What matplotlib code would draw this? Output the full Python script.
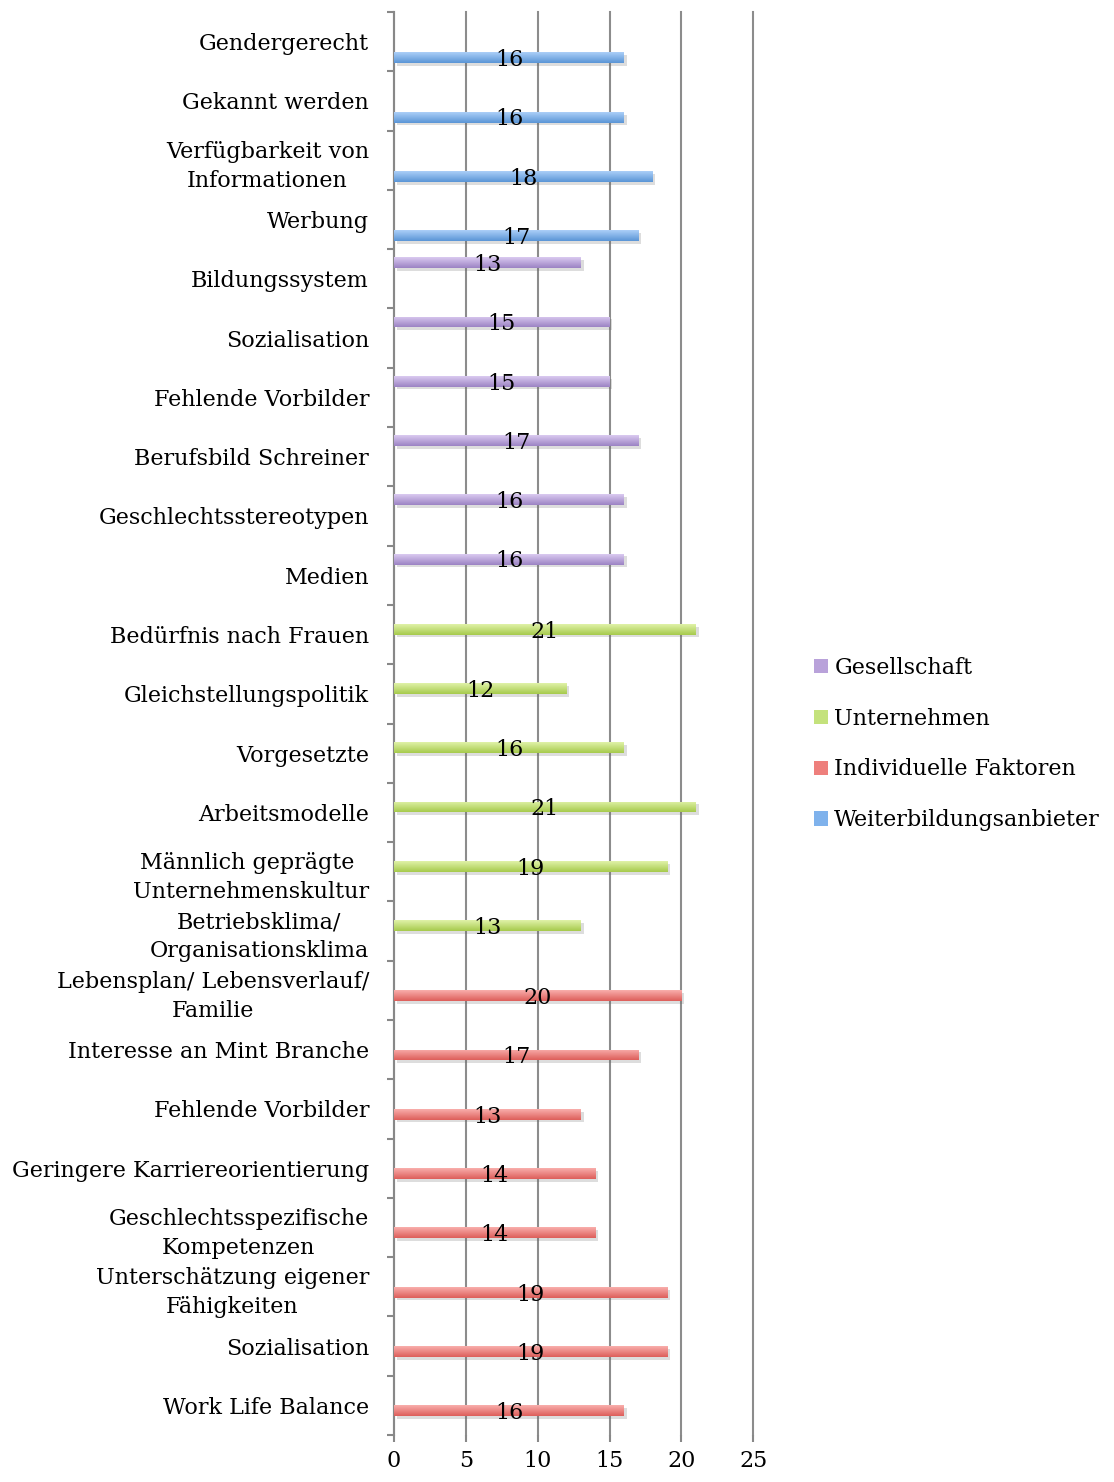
import numpy as np
import matplotlib
matplotlib.use('Agg')
import matplotlib.pyplot as plt
import matplotlib.patheffects as pe
from matplotlib.patches import Patch
from matplotlib.colors import LinearSegmentedColormap

plt.rcParams['font.family'] = ['DejaVu Serif']

# categories top to bottom, value and group for each
categories = ['Gendergerecht', 'Gekannt werden', 'Verfügbarkeit von\nInformationen', 'Werbung',
              'Bildungssystem', 'Sozialisation', 'Fehlende Vorbilder', 'Berufsbild Schreiner',
              'Geschlechtsstereotypen', 'Medien',
              'Bedürfnis nach Frauen', 'Gleichstellungspolitik', 'Vorgesetzte', 'Arbeitsmodelle',
              'Männlich geprägte \nUnternehmenskultur', 'Betriebsklima/\nOrganisationsklima',
              'Lebensplan/ Lebensverlauf/\nFamilie', 'Interesse an Mint Branche', 'Fehlende Vorbilder',
              'Geringere Karriereorientierung', 'Geschlechtsspezifische\nKompetenzen',
              'Unterschätzung eigener\nFähigkeiten', 'Sozialisation', 'Work Life Balance']
values = [16, 16, 18, 17,
          13, 15, 15, 17, 16, 16,
          21, 12, 16, 21, 19, 13,
          20, 17, 13, 14, 14, 19, 19, 16]
groups = ['Weiterbildungsanbieter'] * 4 + ['Gesellschaft'] * 6 + ['Unternehmen'] * 6 + ['Individuelle Faktoren'] * 8

# Excel series order (series 1 drawn lowest in each category)
series = ['Weiterbildungsanbieter', 'Individuelle Faktoren', 'Unternehmen', 'Gesellschaft']
colors = {
    'Weiterbildungsanbieter': ('#abcff8', '#5a95d6', '#7fb2ec'),
    'Individuelle Faktoren': ('#f9aeac', '#dd5e5a', '#ee7f7c'),
    'Unternehmen': ('#e0f2a8', '#a6ca4c', '#c4e27c'),
    'Gesellschaft': ('#dacaf0', '#9c83c4', '#b9a2da'),
}

n = len(categories)
ypos = np.arange(n)[::-1]  # first category at top
slot = 1 / 5.5  # 4 bars + 150% gap width
offsets = {s: (i - 1.5) * slot for i, s in enumerate(series)}

fig = plt.figure(figsize=(11.14, 14.82), dpi=100)
ax = fig.add_axes([0.3537, 0.0317, 0.6762 - 0.3537, 0.9919 - 0.0317])

fs = 16
for y, v, g, lab in zip(ypos, values, groups, categories):
    top, bot, mid = colors[g]
    yy = y + offsets[g]
    b = ax.barh(yy, v, height=slot, color=mid, linewidth=0, zorder=3)[0]
    b.set_path_effects([pe.SimplePatchShadow(offset=(2, -2), shadow_rgbFace='#666666', alpha=0.22),
                        pe.Normal()])
    cmap = LinearSegmentedColormap.from_list('g', [bot, top])
    grad = np.linspace(0, 1, 50).reshape(-1, 1)
    im = ax.imshow(grad, extent=(b.get_x(), b.get_x() + b.get_width(), b.get_y(), b.get_y() + b.get_height()),
                   origin='lower', cmap=cmap, aspect='auto', zorder=4)
    im.set_clip_path(b)
    ax.text(v / 2, yy - 0.04, str(v), ha='center', va='center', fontsize=fs, zorder=5)

ax.set_xlim(0, 25)
ax.set_ylim(-0.5, n - 0.5)
ax.set_xticks(range(0, 26, 5))
ax.set_yticks(ypos)
ax.set_yticklabels(categories, fontsize=fs, linespacing=1.4)
for t in ax.get_yticklabels():
    t.set_multialignment('center')
ax.set_yticks(np.arange(-0.5, n, 1), minor=True)
ax.tick_params(axis='y', which='major', length=0, pad=18)
ax.tick_params(axis='y', which='minor', length=5, color='#888888', width=1.5)
ax.tick_params(axis='x', length=5, color='#888888', width=1.5, labelsize=fs, pad=6)

for s in ['top', 'right', 'bottom']:
    ax.spines[s].set_visible(False)
ax.spines['left'].set_color('#888888')
ax.spines['left'].set_linewidth(1.5)
ax.grid(axis='x', color='#8c8c8c', linewidth=1.5, zorder=0)
for gl in ax.get_xgridlines():
    gl.set_clip_on(False)
ax.set_axisbelow(True)

handles = [Patch(facecolor=colors[s][2], edgecolor='none', label=s) for s in series[::-1]]
fig.legend(handles=handles, loc='center left', bbox_to_anchor=(0.713, 0.498), frameon=False,
           fontsize=fs, handlelength=0.6, handleheight=0.6, handletextpad=0.3, labelspacing=1.3)

fig.savefig('out.png', dpi=100)
